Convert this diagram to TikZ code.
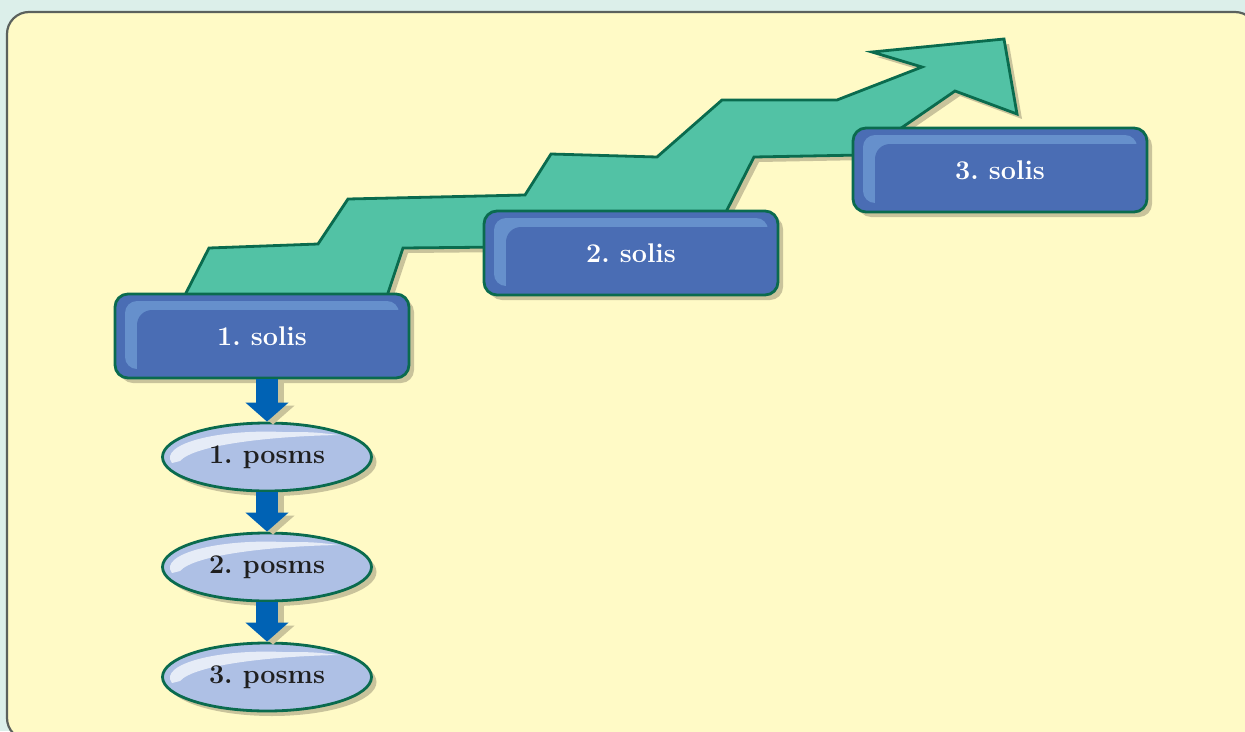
\documentclass[tikz,border=0pt]{standalone}
\usepackage{xcolor}
\usepackage{tikz}
\usetikzlibrary{arrows.meta,shapes.geometric,shadows}
\definecolor{BgTeal}{HTML}{DCEFEA}
\definecolor{Panel}{HTML}{FFFAC6}
\definecolor{PanelLine}{HTML}{5B615D}
\definecolor{StepGreen}{HTML}{52C2A5}
\definecolor{EdgeGreen}{HTML}{0A6B4E}
\definecolor{BoxBlue}{HTML}{4A6DB4}
\definecolor{BoxLight}{HTML}{6690CC}
\definecolor{PosmFill}{HTML}{AEC0E5}
\definecolor{FlowBlue}{HTML}{0062B4}
\definecolor{Shade}{HTML}{C9C39B}
\tikzset{
  shade drop/.style={drop shadow={shadow xshift=5pt,shadow yshift=-5pt,fill=Shade,opacity=1}},
  solisbox/.style={rectangle,rounded corners=13pt,draw=EdgeGreen,line width=2.8pt,fill=BoxBlue,
    minimum width=294pt,minimum height=84pt,inner sep=0pt,text=white,
    font=\fontsize{27}{32}\selectfont\bfseries\frenchspacing,shade drop,
    path picture={
      \fill[BoxLight,rounded corners=12pt] ([shift={(10,7)}]path picture bounding box.north west)
        rectangle ([shift={(-10,-9)}]path picture bounding box.south east);
      \fill[BoxBlue,rounded corners=15pt] ([shift={(22,16)}]path picture bounding box.north west)
        rectangle ([shift={(5,5)}]path picture bounding box.south east);
    }},
  posmell/.style={ellipse,draw=EdgeGreen,line width=2.8pt,fill=PosmFill,
    minimum width=209pt,minimum height=68pt,inner sep=0pt,text=black!88,
    font=\fontsize{27}{32}\selectfont\bfseries\frenchspacing,shade drop,
    path picture={
      \fill[white,opacity=.7] ([shift={(-95,6)}]path picture bounding box.center)
        arc[start angle=168,end angle=282,x radius=96,y radius=26]
        .. controls ([shift={(45,-25)}]path picture bounding box.center)
        .. ([shift={(72,-22)}]path picture bounding box.center)
        .. controls ([shift={(10,-21)}]path picture bounding box.center)
        and ([shift={(-72,-13)}]path picture bounding box.center)
        .. ([shift={(-87,4)}]path picture bounding box.center) -- cycle;
    }},
  flow/.style={line width=22pt,FlowBlue,-{Triangle[width=42pt,length=19pt]}},
  flowshade/.style={flow,Shade,transform canvas={shift={(6pt,-3pt)}}}
}
\newcommand{\SolisBox}[3]{% name position text
\node[solisbox] (#1) at (#2) {#3};
}
\begin{document}
\begin{tikzpicture}[x=1pt,y=-1pt]
\useasboundingbox (0,0) rectangle (1245,731);
\fill[BgTeal] (0,0) rectangle (1245,731);
\clip (0,0) rectangle (1245,731);
\draw[PanelLine,line width=2.2pt,fill=Panel,rounded corners=22pt] (7,12) rectangle (1257,740);
% rising step arrow
\draw[draw=EdgeGreen,line width=2.8pt,line join=miter,fill=StepGreen,shade drop]
  (186,293) -- (209,248) -- (318,244) -- (348,199) -- (525,195) -- (551,154) -- (657,157)
  -- (722,100) -- (837,100) -- (922,67) -- (872,52) -- (1004,39) -- (1017,114) -- (955,91)
  -- (862,155) -- (754,157) -- (727,210) -- (709,245) -- (403,248) -- (388,293)
  -- (380,320) -- (190,320) -- cycle;
\SolisBox{s1}{262,336}{1. solis}
\SolisBox{s2}{631,253}{2. solis}
\SolisBox{s3}{1000,170}{3. solis}
% posms below first solis
\node[posmell] (p1) at (267,457) {1. posms};
\node[posmell] (p2) at (267,567) {2. posms};
\node[posmell] (p3) at (267,677) {3. posms};
\foreach \a/\b in {s1/p1,p1/p2,p2/p3}{
  \draw[flowshade] (\b.north |- \a.south) -- (\b.north);
  \draw[flow] (\b.north |- \a.south) -- (\b.north);
}
\end{tikzpicture}
\end{document}
